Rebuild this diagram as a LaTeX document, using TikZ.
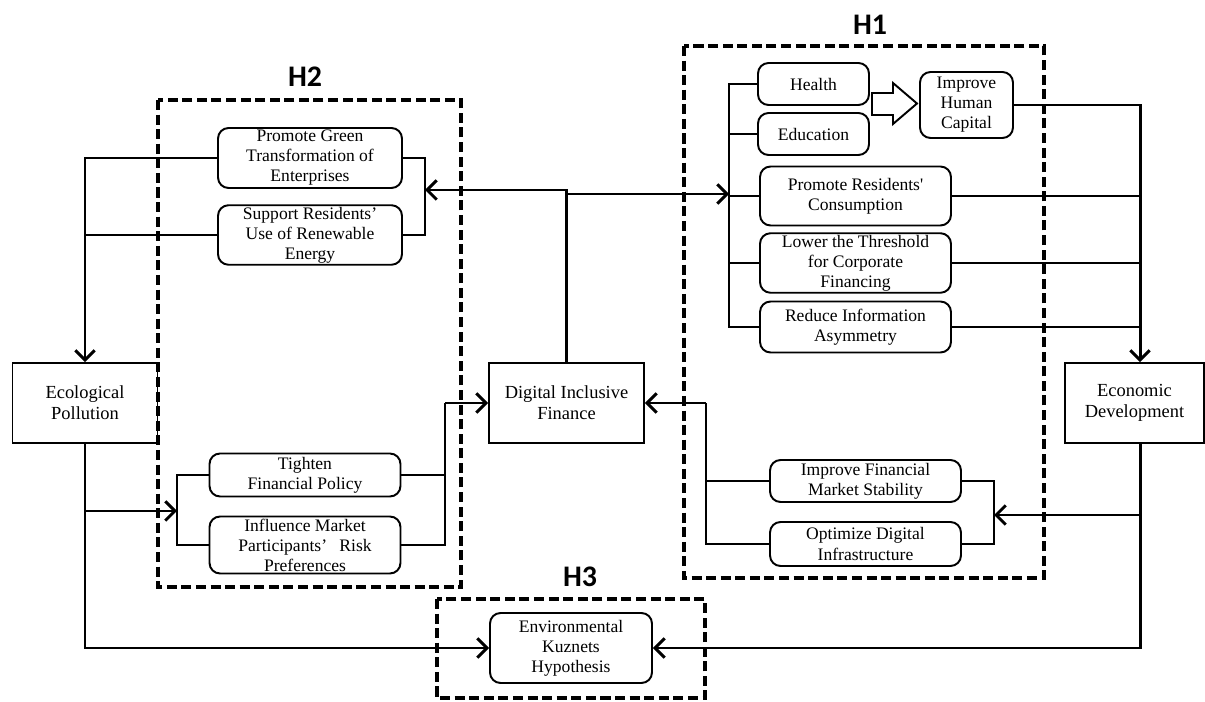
\documentclass[tikz,border=0pt]{standalone}
\usepackage{fontspec}
\setmainfont{Liberation Serif}[Ligatures=TeXOff]
\newfontfamily\hfont{Carlito}
\usetikzlibrary{arrows.meta}

\begin{document}
\begin{tikzpicture}[x=0.02cm,y=-0.02cm,
  box/.style={draw,line width=1.1pt,align=center,inner sep=1pt,font=\fontsize{10.5}{12}\selectfont},
  rbox/.style={box,rounded corners=6pt,font=\fontsize{10}{11.4}\selectfont},
  group/.style={draw,line width=2.3pt,dash pattern=on 5.7pt off 2.6pt},
  glabel/.style={font=\hfont\bfseries\fontsize{17}{17}\selectfont},
  link/.style={line width=1.7pt},
  arr/.style={link,-{Straight Barb[length=5.5pt,width=11pt]}}]
\useasboundingbox (0,0) rectangle (1205,702);

\draw[group] (158,100) rectangle (461,587);
\draw[group] (684,46) rectangle (1044,578);
\draw[group] (437,599) rectangle (705,698);
\node[glabel] (h2) at (305,77) {H2};
\node[glabel] (h1) at (870,25) {H1};
\node[glabel] (h3) at (580,577) {H3};

\node[box,minimum width=2.9cm,minimum height=1.6cm] (eco) at (85,403) {Ecological\\Pollution};
\node[box,minimum width=3.1cm,minimum height=1.6cm] (dif) at (566.5,403) {Digital Inclusive\\Finance};
\node[box,minimum width=2.78cm,minimum height=1.6cm] (ed) at (1134.5,403) {Economic\\Development};

\node[rbox,minimum width=3.68cm,minimum height=1.2cm] (pgt) at (310,158) {Promote Green\\Transformation of\\Enterprises};
\node[rbox,minimum width=3.68cm,minimum height=1.14cm] (sru) at (310,235) {Support Residents’\\Use of Renewable\\Energy};
\node[rbox,minimum width=3.82cm,minimum height=0.86cm] (tfp) at (305,475) {Tighten\\Financial Policy};
\node[rbox,minimum width=3.82cm,minimum height=1.14cm] (imp) at (305,545) {Influence Market\\Participants’\hspace{0.7em}Risk\\Preferences};

\node[rbox,minimum width=2.22cm,minimum height=0.84cm] (health) at (813.5,84) {Health};
\node[rbox,minimum width=2.22cm,minimum height=0.84cm] (edu) at (813.5,134) {Education};
\node[rbox,minimum width=1.86cm,minimum height=1.32cm] (ihc) at (966.5,105) {Improve\\Human\\Capital};
\node[rbox,minimum width=3.82cm,minimum height=1.18cm] (prc) at (855.5,196) {Promote Residents'\\Consumption};
\node[rbox,minimum width=3.82cm,minimum height=1.18cm] (ltc) at (855.5,263) {Lower the Threshold\\for Corporate\\Financing};
\node[rbox,minimum width=3.82cm,minimum height=1.02cm] (ria) at (855.5,327) {Reduce Information\\Asymmetry};
\node[rbox,minimum width=3.82cm,minimum height=0.84cm] (ifm) at (865.5,481) {Improve Financial\\Market Stability};
\node[rbox,minimum width=3.82cm,minimum height=0.88cm] (odi) at (865.5,544) {Optimize Digital\\Infrastructure};
\node[rbox,minimum width=3.24cm,minimum height=1.4cm] (ekh) at (571,648) {Environmental\\Kuznets\\Hypothesis};

\coordinate (gbr) at (425,190);
\coordinate (hbus) at (729,194);
\coordinate (etop) at (1140,105);
\coordinate (pbr) at (177,511);
\coordinate (fbr) at (445,403);
\coordinate (sbr) at (706,403);
\coordinate (mbr) at (994,515);

\draw[arr] (pgt.west) -| (eco.north);
\draw[link] (sru.west) -- (sru.west -| eco.north);
\draw[link] (pgt.east) -| (gbr);
\draw[link] (sru.east) -| (gbr);
\draw[arr] (dif.north) |- (gbr);
\draw[arr] (dif.north) |- (hbus);

\draw[link] (health.west) -| (hbus);
\draw[link] (ria.west) -| (hbus);
\draw[link] (edu.west) -- (edu.west -| hbus);
\draw[link] (prc.west) -- (prc.west -| hbus);
\draw[link] (ltc.west) -- (ltc.west -| hbus);
\draw[line width=1.1pt,line join=miter] (872,93) -- (893,93) -- (893,83) -- (917,103.5) -- (893,124) -- (893,115) -- (872,115) -- cycle;

\draw[arr] (ihc.east) -- (etop) -- (etop |- ed.north);
\draw[link] (prc.east) -- (prc.east -| etop);
\draw[link] (ltc.east) -- (ltc.east -| etop);
\draw[link] (ria.east) -- (ria.east -| etop);

\draw[arr] (eco.south) |- (ekh.west);
\draw[arr] (eco.south |- pbr) -- (pbr);
\draw[link] (tfp.west) -| (pbr);
\draw[link] (imp.west) -| (pbr);
\draw[link] (imp.east) -| (fbr);
\draw[link] (tfp.east) -- (tfp.east -| fbr);
\draw[arr] (fbr) -- (dif.west);

\draw[arr] (sbr) -- (dif.east);
\draw[link] (odi.west) -| (sbr);
\draw[link] (ifm.west) -- (ifm.west -| sbr);
\draw[link] (ifm.east) -| (mbr);
\draw[link] (odi.east) -| (mbr);
\draw[arr] (etop |- mbr) -- (mbr);
\draw[arr] (etop |- ed.south) |- (ekh.east);
\end{tikzpicture}
\end{document}
